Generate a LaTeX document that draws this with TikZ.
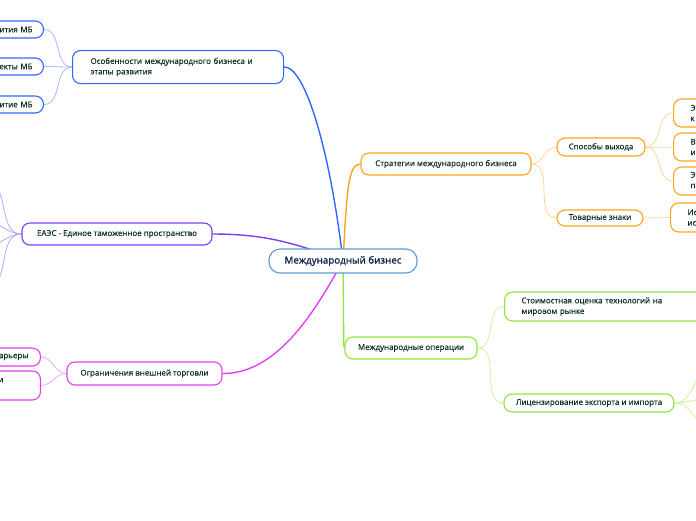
\documentclass[tikz,border=0pt]{standalone}
\usepackage{fontspec}
\setmainfont{Open Sans}[FakeBold=0.5]
\newfontfamily\headfont{Open Sans}[FakeBold=1.2]
\usepackage{tikz}
\usetikzlibrary{backgrounds}

\definecolor{txt}{HTML}{0D3325}
\definecolor{navy}{HTML}{12234A}
\definecolor{centb}{HTML}{5B9BD5}
\definecolor{blueM}{HTML}{3366FF}
\definecolor{blueL}{HTML}{A3B8FF}
\definecolor{orM}{HTML}{FFA31A}
\definecolor{orL}{HTML}{FFD699}
\definecolor{grM}{HTML}{8FE63A}
\definecolor{grL}{HTML}{CBF5A3}
\definecolor{puM}{HTML}{7B3FF2}
\definecolor{puL}{HTML}{BDA6FF}
\definecolor{maM}{HTML}{E53FF0}
\definecolor{maL}{HTML}{F3A8F6}

\begin{document}
\begin{tikzpicture}[x=1pt,y=-1pt,font=\fontsize{7.95}{10.5}\selectfont,
  box/.style={draw=#1, rounded corners=8pt, fill=white, line width=1.1pt,
    text=txt, inner ysep=0pt},
  link/.style={draw=#1, line width=1.4pt},
  sublink/.style={draw=#1, line width=0.8pt}]

\useasboundingbox (0,0) rectangle (696,520);
\clip (0,0) rectangle (696,520);

% central topic
\node[box=centb, rounded corners=11pt, minimum width=148pt, minimum height=24pt,
  text=navy, font=\fontsize{9.8}{10}\headfont] (center) at (343,261) {Международный бизнес};

% blue branch
\node[box=blueM, anchor=north west, minimum width=211pt, minimum height=33pt,
  text width=175pt, inner xsep=18pt, align=left] (osob) at (72,50)
  {Особенности международного бизнеса и\\этапы развития};
\node[box=blueM, anchor=east, minimum height=17pt, text width=120pt, inner xsep=11pt, align=right] (osob1) at (44,29.5) {вития МБ};
\node[box=blueM, anchor=east, minimum height=17pt, text width=120pt, inner xsep=11pt, align=right] (osob2) at (44,66.5) {екты МБ};
\node[box=blueM, anchor=east, minimum height=17pt, text width=120pt, inner xsep=11pt, align=right] (osob3) at (44,104.5) {итие МБ};

% orange branch
\node[box=orM, minimum width=170pt, minimum height=22pt] (strat) at (446,164) {Стратегии международного бизнеса};
\node[box=orM, minimum width=88pt, minimum height=18pt] (sposob) at (601,147) {Способы выхода};
\node[box=orM, minimum width=86pt, minimum height=16pt] (tovar) at (600,218) {Товарные знаки};
\node[box=orM, anchor=west, minimum width=120pt, minimum height=28pt, text width=86pt, inner xsep=17pt, align=left] (sposob1) at (673,113) {Э\\к};
\node[box=orM, anchor=west, minimum width=120pt, minimum height=28pt, text width=86pt, inner xsep=17pt, align=left] (sposob2) at (673,147) {В\\и};
\node[box=orM, anchor=west, minimum width=120pt, minimum height=28pt, text width=86pt, inner xsep=17pt, align=left] (sposob3) at (673,181) {Э\\пр};
\node[box=orM, anchor=west, minimum width=120pt, minimum height=29pt, text width=86pt, inner xsep=16pt, align=left] (tovar1) at (670,217.5) {Ис\\ис};

% green branch
\node[box=grM, minimum width=132pt, minimum height=22pt] (oper) at (411,348) {Международные операции};
\node[box=grM, anchor=west, minimum width=260pt, minimum height=29pt, text width=226pt, inner xsep=17pt, align=left] (stoim) at (504,306.5)
  {Стоимостная оценка технологий на\\мировом рынке};
\node[box=grM, minimum width=170pt, minimum height=18pt] (lic) at (589,403) {Лицензирование экспорта и импорта};
\coordinate (lic1) at (716,362);
\coordinate (lic2) at (716,397);
\coordinate (lic3) at (716,432);

% purple branch
\node[box=puM, minimum width=190pt, minimum height=22pt] (eaes) at (117,234) {ЕАЭС - Единое таможенное пространство};
\coordinate (eaes1) at (-14,182);
\coordinate (eaes2) at (-14,222);
\coordinate (eaes3) at (-14,246);
\coordinate (eaes4) at (-14,288);

% magenta branch
\node[box=maM, minimum width=155pt, minimum height=23pt] (ogr) at (144.5,373.5) {Ограничения внешней торговли};
\node[box=maM, anchor=east, minimum height=18pt, text width=120pt, inner xsep=12pt, align=right] (ogr1) at (41,357) {арьеры};
\node[box=maM, anchor=east, minimum height=29pt, text width=120pt, inner xsep=37pt, align=right] (ogr2) at (41,385.5) {и\\~};

\begin{pgfonlayer}{background}
  % main connectors
  \draw[link=blueM] (osob.east) .. controls (305,66) and (330,150) .. (center.center);
  \draw[link=orM] (center.center) .. controls (347,190) and (348,164) .. (strat.west);
  \draw[link=grM] (center.center) .. controls (344,320) and (343,348) .. (oper.west);
  \draw[link=puM] (eaes.east) .. controls (265,234) and (295,243) .. (center.center);
  \draw[link=maM] (ogr.east) .. controls (280,374) and (318,305) .. (center.center);
  % sub connectors
  \foreach \c in {osob1,osob2,osob3}
    \draw[sublink=blueL] (osob.west) to[out=180,in=0] (\c.east);
  \draw[sublink=orL] (strat.east) to[out=0,in=180] (sposob.west);
  \draw[sublink=orL] (strat.east) to[out=0,in=180] (tovar.west);
  \foreach \c in {sposob1,sposob2,sposob3}
    \draw[sublink=orL] (sposob.east) to[out=0,in=180] (\c.west);
  \draw[sublink=orL] (tovar.east) -- (tovar1.west);
  \draw[sublink=grL] (oper.east) to[out=0,in=180] (stoim.west);
  \draw[sublink=grL] (oper.east) to[out=0,in=180] (lic.west);
  \foreach \c in {lic1,lic2,lic3}
    \draw[sublink=grL] (lic.east) to[out=0,in=180] (\c);
  \foreach \c in {eaes1,eaes2,eaes3,eaes4}
    \draw[sublink=puL] (eaes.west) to[out=180,in=0] (\c);
  \foreach \c in {ogr1,ogr2}
    \draw[sublink=maL] (ogr.west) to[out=180,in=0] (\c.east);
\end{pgfonlayer}

\end{tikzpicture}
\end{document}
